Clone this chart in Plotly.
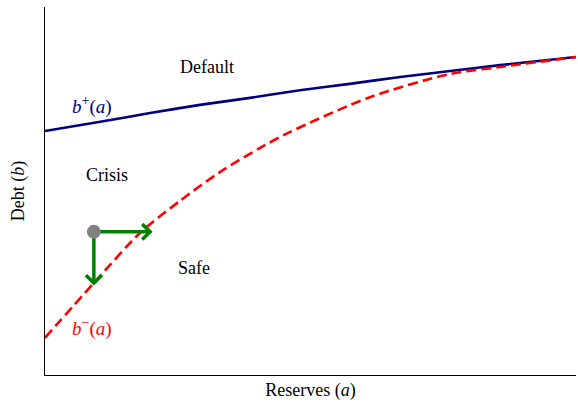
import plotly.graph_objects as go

# Reserves (a) grid and curve values
a_upper = [0.0, 1.04, 1.98, 2.92, 3.86, 4.80, 5.74, 6.69, 7.63, 8.57, 10.0]
b_upper = [6.63, 6.88, 7.12, 7.34, 7.53, 7.74, 7.91, 8.10, 8.26, 8.42, 8.64]

a_lower = [0.0, 0.92, 1.79, 2.54, 3.30, 4.05, 4.61, 6.12, 7.63, 8.57, 10.0]
b_lower = [1.01, 2.50, 3.86, 4.73, 5.52, 6.17, 6.60, 7.55, 8.18, 8.37, 8.64]

# State point and arrow ends
point_a, point_b = 0.92, 3.89
arrow_right_a = 1.98
arrow_down_b = 2.50

# Region labels
labels = ["Default", "Crisis", "Safe"]
label_a = [3.05, 1.17, 2.81]
label_b = [8.37, 5.43, 2.91]

FONT = "Liberation Serif"
GREEN = "#008000"

fig = go.Figure()

fig.add_trace(go.Scatter(x=a_upper, y=b_upper, mode="lines",
                         line=dict(color="#000080", width=2.6, shape="spline", smoothing=0.6),
                         showlegend=False, hoverinfo="skip"))
fig.add_trace(go.Scatter(x=a_lower, y=b_lower, mode="lines",
                         line=dict(color="#FF0000", width=2.6, shape="spline", smoothing=0.8,
                                   dash="10px,5px"),
                         showlegend=False, hoverinfo="skip"))

# arrows (shafts)
fig.add_trace(go.Scatter(x=[point_a, arrow_right_a], y=[point_b, point_b], mode="lines",
                         line=dict(color=GREEN, width=3.5), showlegend=False, hoverinfo="skip"))
fig.add_trace(go.Scatter(x=[point_a, point_a], y=[point_b, arrow_down_b], mode="lines",
                         line=dict(color=GREEN, width=3.5), showlegend=False, hoverinfo="skip"))
# open arrow heads
ha, hb = 0.15, 0.21
fig.add_trace(go.Scatter(x=[arrow_right_a - ha, arrow_right_a, arrow_right_a - ha],
                         y=[point_b + hb, point_b, point_b - hb], mode="lines",
                         line=dict(color=GREEN, width=3.5), showlegend=False, hoverinfo="skip"))
fig.add_trace(go.Scatter(x=[point_a - ha, point_a, point_a + ha],
                         y=[arrow_down_b + hb, arrow_down_b, arrow_down_b + hb], mode="lines",
                         line=dict(color=GREEN, width=3.5), showlegend=False, hoverinfo="skip"))

fig.add_trace(go.Scatter(x=[point_a], y=[point_b], mode="markers",
                         marker=dict(color="#808080", size=14, line=dict(width=0)),
                         showlegend=False, hoverinfo="skip"))

for t, x, y in zip(labels, label_a, label_b):
    fig.add_annotation(x=x, y=y, text=t, showarrow=False,
                       font=dict(family=FONT, size=18, color="black"))

SUP = '<sup><span style="font-size:14px">{}</span></sup>'
fig.add_annotation(x=0.88, y=7.31, text="<i>b</i>" + SUP.format("+") + "(<i>a</i>)", showarrow=False,
                   font=dict(family=FONT, size=19, color="#000080"))
fig.add_annotation(x=0.88, y=1.28, text="<i>b</i>" + SUP.format("−") + "(<i>a</i>)", showarrow=False,
                   font=dict(family=FONT, size=19, color="#FF0000"))

fig.update_layout(
    width=578, height=402, autosize=False,
    margin=dict(l=45, r=2, t=7, b=27),
    paper_bgcolor="white", plot_bgcolor="white",
    xaxis=dict(range=[0, 10], showgrid=False, zeroline=False, showticklabels=False, ticks="",
               showline=True, linecolor="black", linewidth=1, mirror=False, automargin=False,
               title=dict(text="Reserves (<i>a</i>)", font=dict(family=FONT, size=18, color="black"), standoff=8)),
    yaxis=dict(range=[0, 10], showgrid=False, zeroline=False, showticklabels=False, ticks="",
               showline=True, linecolor="black", linewidth=1, mirror=False, automargin=False,
               title=dict(text="Debt (<i>b</i>)", font=dict(family=FONT, size=18, color="black"), standoff=14)),
)

fig.write_html("out.html", config={"displayModeBar": False},
               post_script="document.body.style.margin='0px';document.body.style.overflow='hidden';")
